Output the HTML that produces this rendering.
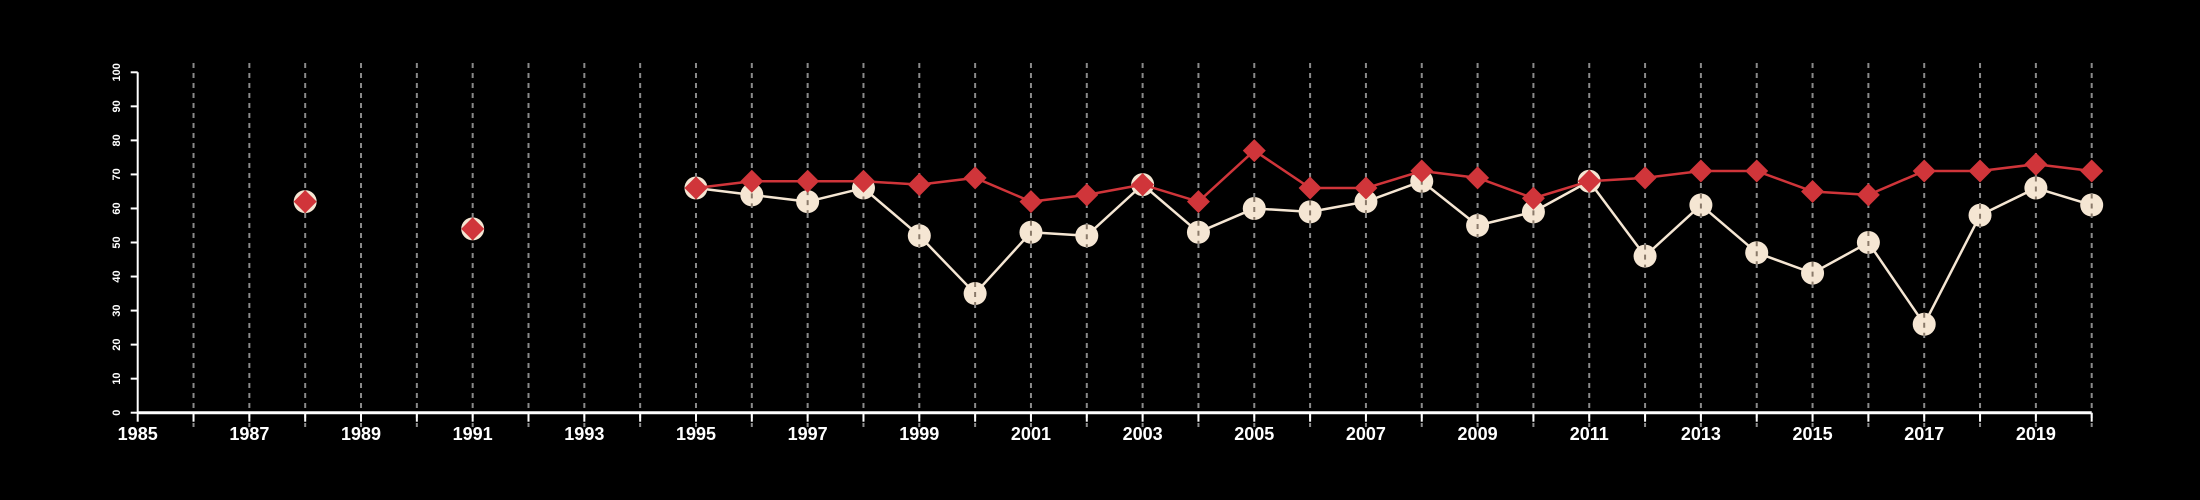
<!DOCTYPE html>
<html><head><meta charset="utf-8"><style>
html,body{margin:0;padding:0;background:#000;}
svg{display:block;font-family:"Liberation Sans",sans-serif;}
</style></head><body>
<svg id="chart" width="2200" height="500" viewBox="0 0 2200 500" xmlns="http://www.w3.org/2000/svg">
<rect width="2200" height="500" fill="#000"/>
<g id="grid"></g>
<g id="axes"></g>
<g id="series"></g>
</svg>
<script>
const years = [1988,1991,1995,1996,1997,1998,1999,2000,2001,2002,2003,2004,2005,2006,2007,2008,2009,2010,2011,2012,2013,2014,2015,2016,2017,2018,2019,2020];
const seriesA = [62,54,66,64,62,66,52,35,53,52,67,53,60,59,62,68,55,59,68,46,61,47,41,50,26,58,66,61];
const seriesB = [62,54,66,68,68,68,67,69,62,64,67,62,77,66,66,71,69,63,68,69,71,71,65,64,71,71,73,71];
const yTicks = [0,10,20,30,40,50,60,70,80,90,100];
const xLabels = [1985,1987,1989,1991,1993,1995,1997,1999,2001,2003,2005,2007,2009,2011,2013,2015,2017,2019];
const xMin = 1985, xMax = 2020;

const NS = "http://www.w3.org/2000/svg";
const X0 = 137.7, X1 = 2091.7, Y0 = 412.7, Y1 = 72.3;
function xs(v){return X0 + (v - xMin) / (xMax - xMin) * (X1 - X0);}
function ys(v){return Y0 - v / 100 * (Y0 - Y1);}
function mk(tag, attrs, parent){const e=document.createElementNS(NS,tag);for(const k in attrs)e.setAttribute(k,attrs[k]);parent.appendChild(e);return e;}

const grid=document.getElementById('grid'), axes=document.getElementById('axes'), ser=document.getElementById('series');

// axes
let ax = mk('line',{x1:X0,y1:Y0,x2:X1,y2:Y0,stroke:'#fff','stroke-width':3},axes);


let ay = mk('line',{x1:X0,y1:Y0,x2:X0,y2:Y1,stroke:'#fff','stroke-width':2},axes);


for(const t of yTicks){
  const y=ys(t);
  const tk=mk('line',{x1:X0-7,y1:y,x2:X0,y2:y,stroke:'#fff','stroke-width':2},axes);
  
  
  const tx=mk('text',{x:0,y:0,fill:'#fff','font-size':11,'font-weight':'bold','text-anchor':'middle',transform:`translate(120,${y}) rotate(-90)`},axes);
  tx.textContent=t;
  
  
}
for(let yr=xMin; yr<=xMax; yr++){
  const x=xs(yr);
  const tk=mk('line',{x1:x,y1:Y0,x2:x,y2:Y0+9,stroke:'#fff','stroke-width':2},axes);
  
  
  if(yr>xMin){
    const g=mk('line',{x1:x,y1:63,x2:x,y2:427,stroke:'#8a8a8a','stroke-width':2,'stroke-dasharray':'5 5'},grid);
    
    
  }
}
for(const l of xLabels){
  const tx=mk('text',{x:xs(l),y:440,fill:'#fff','font-size':18,'font-weight':'bold','text-anchor':'middle'},axes);
  tx.textContent=l;
  
  
}
function drawLine(vals,color,name){
  for(let i=1;i<years.length;i++){
    if(years[i]-years[i-1]===1){
      const s=mk('line',{x1:xs(years[i-1]),y1:ys(vals[i-1]),x2:xs(years[i]),y2:ys(vals[i]),stroke:color,'stroke-width':2.5},ser);
      
      
    }
  }
}
drawLine(seriesA,'#f5e6d3','series-a-line');
years.forEach((yr,i)=>{
  const c=mk('circle',{cx:xs(yr),cy:ys(seriesA[i]),r:11.5,fill:'#f5e6d3'},ser);
  
  
});
// grid dashes over circles
years.forEach((yr,i)=>{
  const x=xs(yr),y=ys(seriesA[i]);
  const g=mk('line',{x1:x,y1:y-11.5,x2:x,y2:y+11.5,stroke:'#8a7a6a','stroke-width':2,'stroke-dasharray':'5 5'},ser);
  
  
});
drawLine(seriesB,'#d0353a','series-b-line');
years.forEach((yr,i)=>{
  const x=xs(yr),y=ys(seriesB[i]),d=11.5;
  const p=mk('polygon',{points:`${x},${y-d} ${x+d},${y} ${x},${y+d} ${x-d},${y}`,fill:'#d0353a'},ser);
  
  
});
</script>
</body></html>
